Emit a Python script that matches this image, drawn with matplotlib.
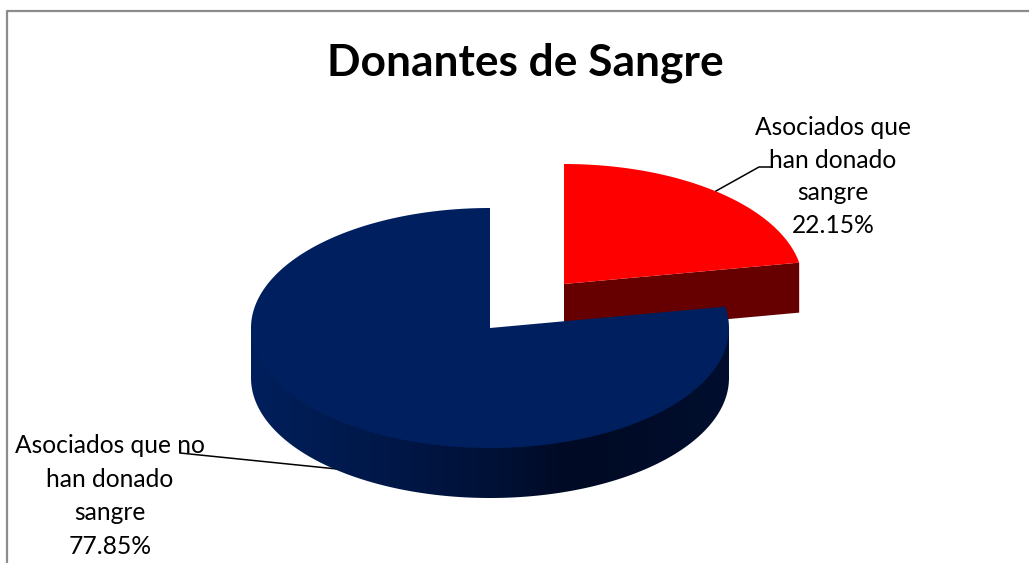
import numpy as np
import matplotlib.pyplot as plt
from matplotlib.patches import Polygon
from matplotlib.colors import to_rgb

# datos
labels = ['Asociados que\nhan donado\nsangre', 'Asociados que no\nhan donado\nsangre']
values = [22.15, 77.85]
title = 'Donantes de Sangre'

W, H = 1029, 563
RX, RY, DEPTH = 239, 120, 50
BLUE_C = (490, 328)
RED_C = (564, 284)

plt.rcParams['font.family'] = ['Lato', 'DejaVu Sans']


def arc(center, t0, t1, n=200, k=1.0):
    # t in degrees, clockwise from the top of the ellipse
    t = np.radians(np.linspace(t0, t1, n))
    return np.column_stack([center[0] + k * RX * np.sin(t), center[1] - k * RY * np.cos(t)])


fig = plt.figure(figsize=(W / 100, H / 100), dpi=100)
ax = fig.add_axes([0, 0, 1, 1])
ax.axis('off')

# marco
ax.plot([7, 7, W], [H, 10.5, 10.5], color='#8c8c8c', lw=1.6, zorder=1)

split = values[0] / sum(values) * 360

# rebanada roja
red_top = arc(RED_C, 0, split)
tip = red_top[-1]
ax.add_patch(Polygon([RED_C, tip, tip + [0, DEPTH], (RED_C[0], RED_C[1] + DEPTH)],
                     fc='#660000', ec='none', zorder=2))
ax.add_patch(Polygon(np.vstack([[RED_C], red_top]), fc='#ff0000', ec='none', zorder=3))

# lado azul con degradado horizontal, only the front half of the rim can be seen
# the clip goes a bit under the top face so no white seam shows between them
side_top = arc(BLUE_C, 90, 270, 300)
side_inner = arc(BLUE_C, 90, 270, 300, k=0.97)
side = Polygon(np.vstack([side_top[:1], side_inner, side_top[-1:], side_top[::-1] + [0, DEPTH]]),
               fc='none', ec='none', transform=ax.transData)
ax.add_patch(side)
xs = np.arange(BLUE_C[0] - RX, BLUE_C[0] + RX + 1)
stops = [251, 330, 490, 570, 729]
cols = np.array([to_rgb(c) for c in ['#001f5c', '#001b50', '#001138', '#000a24', '#000e2e']])
grad = np.stack([np.interp(xs, stops, cols[:, i]) for i in range(3)], axis=1)[np.newaxis, :, :]
im = ax.imshow(grad, extent=(xs[0], xs[-1], BLUE_C[1] + RY + DEPTH, BLUE_C[1] - 40),
               aspect='auto', zorder=4, interpolation='bilinear')
im.set_clip_path(side)

# cara superior azul
blue_top = arc(BLUE_C, split, 360, 400)
ax.add_patch(Polygon(np.vstack([[BLUE_C], blue_top]), fc='#001f5f', ec='none', zorder=5))

# lineas guia
ax.plot([716, 759, 771], [191, 167, 167], color='black', lw=1.1, zorder=6)
ax.plot([180, 337], [453, 469], color='black', lw=1.1, zorder=3)

# textos
ax.text(525, 63, title, fontsize=31.9, fontweight='bold', ha='center', va='center', color='black')
ax.text(833, 176.5, f'{labels[0]}\n{values[0]:.2f}%', fontsize=17.7, ha='center', va='center',
        linespacing=1.52, color='black', zorder=7)
ax.text(110, 496, f'{labels[1]}\n{values[1]:.2f}%', fontsize=17.7, ha='center', va='center',
        linespacing=1.55, color='black', zorder=7)

ax.set_xlim(0, W)
ax.set_ylim(H, 0)

fig.savefig('out.png', dpi=100)
